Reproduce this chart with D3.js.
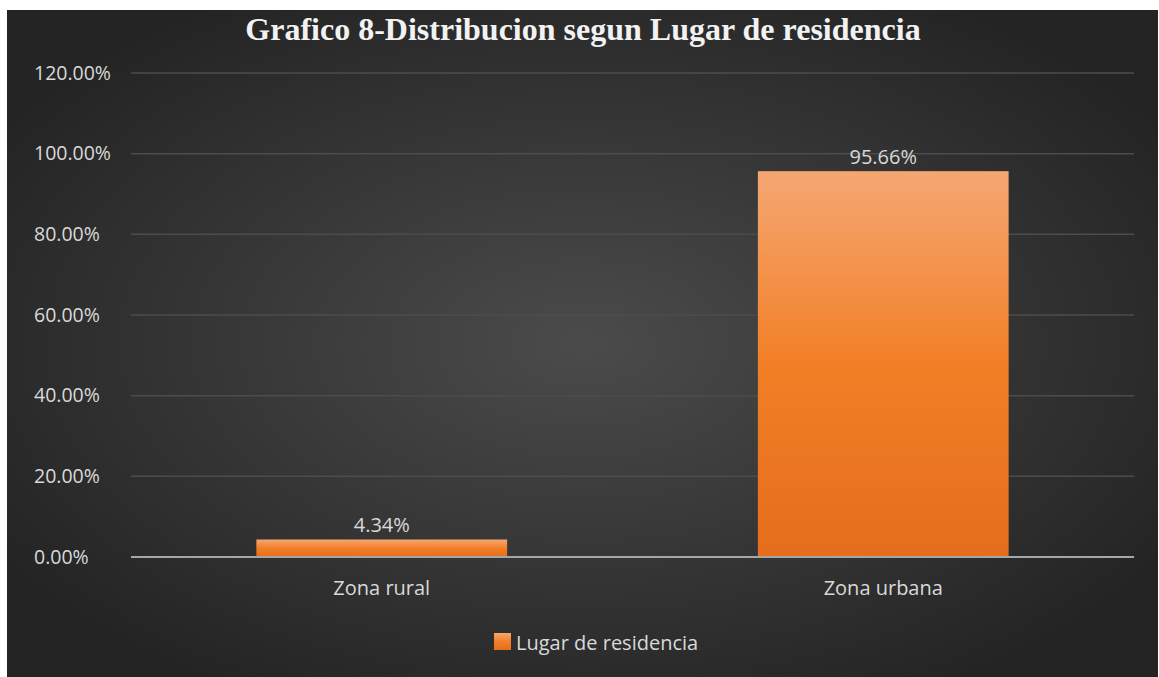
<!DOCTYPE html>
<html>
<head>
<meta charset="utf-8">
<script src="https://cdn.jsdelivr.net/npm/d3@7"></script>
<style>
  html, body { margin: 0; padding: 0; background: #ffffff; }
  svg { display: block; }
</style>
</head>
<body>
<svg id="chart"></svg>
<script>
// data
const categories = ["Zona rural", "Zona urbana"];
const values = [0.0434, 0.9566];
const yTicks = [0, 0.2, 0.4, 0.6, 0.8, 1.0, 1.2];
const seriesName = "Lugar de residencia";
const title = "Grafico 8-Distribucion segun Lugar de residencia";

const width = 1159, height = 677;
const margin = { top: 73, right: 25, bottom: 120, left: 131 };
const font = "'Open Sans', sans-serif";
const textColor = "#d9d9d9";

const svg = d3.select("#chart").attr("width", width).attr("height", height);
const defs = svg.append("defs");

// background gradient
const bg = defs.append("radialGradient").attr("id", "bg")
  .attr("cx", "50%").attr("cy", "50%").attr("r", "60%");
bg.append("stop").attr("offset", "0%").attr("stop-color", "#4b4b4b");
bg.append("stop").attr("offset", "100%").attr("stop-color", "#242424");

const barGrad = defs.append("linearGradient").attr("id", "barGrad")
  .attr("x1", 0).attr("y1", 0).attr("x2", 0).attr("y2", 1);
barGrad.append("stop").attr("offset", "0%").attr("stop-color", "#f4a772");
barGrad.append("stop").attr("offset", "50%").attr("stop-color", "#f27f26");
barGrad.append("stop").attr("offset", "100%").attr("stop-color", "#e56d1c");

svg.append("rect").attr("x", 7).attr("y", 10)
  .attr("width", width - 8).attr("height", height - 10)
  .attr("fill", "url(#bg)");

const x = d3.scaleBand().domain(categories)
  .range([margin.left, 1134]).paddingInner(0.5).paddingOuter(0.25);
const y = d3.scaleLinear().domain([0, 1.2]).range([557, margin.top]);

// gridlines
svg.append("g").selectAll("line").data(yTicks.slice(1)).enter().append("line")
  .attr("x1", margin.left).attr("x2", 1134)
  .attr("y1", d => y(d)).attr("y2", d => y(d))
  .attr("stroke", "#4c4c4c").attr("stroke-width", 1.5);

// y tick labels (left aligned, like the original)
svg.append("g").selectAll("text").data(yTicks).enter().append("text")
  .attr("x", 34).attr("y", d => y(d)).attr("dy", "0.35em")
  .attr("text-anchor", "start")
  .attr("font-family", font).attr("font-size", 19.5)
  .attr("fill", textColor)
  .text(d => d3.format(".2%")(d));

// bars
svg.append("g").selectAll("rect").data(values).enter().append("rect")
  .attr("x", (d, i) => x(categories[i]))
  .attr("width", x.bandwidth())
  .attr("y", d => y(d))
  .attr("height", d => y(0) - y(d))
  .attr("fill", "url(#barGrad)");

// axis line
svg.append("line").attr("x1", margin.left).attr("x2", 1134)
  .attr("y1", y(0)).attr("y2", y(0))
  .attr("stroke", "#a6a6a6").attr("stroke-width", 2);

// value labels
svg.append("g").selectAll("text").data(values).enter().append("text")
  .attr("x", (d, i) => x(categories[i]) + x.bandwidth() / 2)
  .attr("y", d => y(d) - 7)
  .attr("text-anchor", "middle")
  .attr("font-family", font).attr("font-size", 20)
  .attr("fill", textColor)
  .text(d => d3.format(".2%")(d));

// category labels
svg.append("g").selectAll("text").data(categories).enter().append("text")
  .attr("x", d => x(d) + x.bandwidth() / 2)
  .attr("y", 595)
  .attr("text-anchor", "middle")
  .attr("font-family", font).attr("font-size", 20)
  .attr("fill", textColor)
  .text(d => d);

// legend
const legend = svg.append("g").attr("transform", "translate(494,633)");
legend.append("rect").attr("width", 17).attr("height", 17).attr("fill", "url(#barGrad)");
legend.append("text").attr("x", 22).attr("y", 17)
  .attr("font-family", font).attr("font-size", 20)
  .attr("fill", textColor)
  .text(seriesName);

// title
svg.append("text").attr("x", 583).attr("y", 40)
  .attr("text-anchor", "middle")
  .attr("font-family", "'Liberation Serif', 'Times New Roman', serif")
  .attr("font-weight", "bold").attr("font-size", 32)
  .attr("fill", "#f2f2f2")
  .text(title);
</script>
</body>
</html>
